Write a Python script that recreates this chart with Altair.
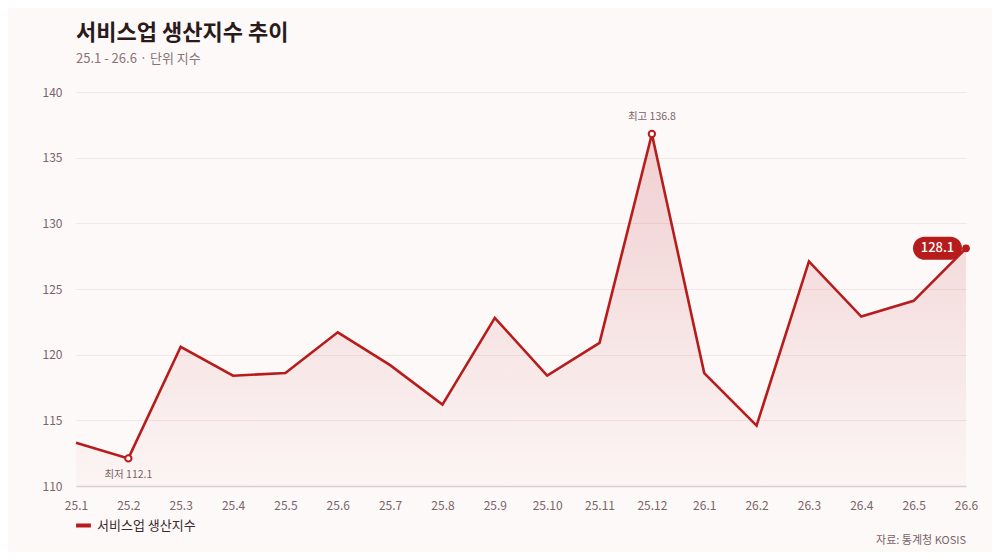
import pandas as pd
import altair as alt

# 데이터
months = ["25.1", "25.2", "25.3", "25.4", "25.5", "25.6", "25.7", "25.8", "25.9",
          "25.10", "25.11", "25.12", "26.1", "26.2", "26.3", "26.4", "26.5", "26.6"]
values = [113.3, 112.1, 120.6, 118.4, 118.6, 121.7, 119.2, 116.2, 122.8,
          118.4, 120.9, 136.8, 118.6, 114.6, 127.1, 122.9, 124.1, 128.1]
series_name = "서비스업 생산지수"
y_ticks = [110, 115, 120, 125, 130, 135, 140]

RED = "#b71c1c"
FONT = "Noto Sans CJK KR"
W, H = 890, 394

df = pd.DataFrame({"월": months, "지수": values, "계열": series_name})

x_scale = alt.Scale(type="point", domain=months, padding=0)
y_scale = alt.Scale(domain=[110, 140], zero=False, nice=False)


def xpos():
    return alt.X("월:N", sort=months, scale=x_scale, title=None)


x_enc = alt.X("월:N", sort=months, title=None, scale=x_scale,
              axis=alt.Axis(labelAngle=0, ticks=False, domainColor="#dccfd2",
                            domainWidth=1.5, labelPadding=14, grid=False))

base = alt.Chart(df).encode(x=x_enc)

gradient = alt.Gradient(
    gradient="linear", x1=1, x2=1, y1=0, y2=1,
    stops=[alt.GradientStop(color="rgba(190,40,50,0.20)", offset=0),
           alt.GradientStop(color="rgba(190,40,50,0.02)", offset=1)],
)

area = base.mark_area(color=gradient).encode(
    y=alt.Y("지수:Q", scale=y_scale, title=None,
            axis=alt.Axis(values=y_ticks, ticks=False, domain=False,
                          labelPadding=14, gridColor="#f3e6e7")),
    y2=alt.datum(110),
)

line = base.mark_line(strokeWidth=2.6, strokeJoin="miter").encode(
    y=alt.Y("지수:Q", scale=y_scale),
    color=alt.Color("계열:N", scale=alt.Scale(range=[RED]),
                    legend=alt.Legend(title=None, orient="none", legendX=-2, legendY=424,
                                      symbolType="stroke", symbolStrokeWidth=4,
                                      symbolSize=220, labelFontSize=13,
                                      labelColor="#3b2a2c", labelFont=FONT)),
)

# 최고 / 최저
i_max = values.index(max(values))
i_min = values.index(min(values))
ext = pd.DataFrame({
    "월": [months[i_max], months[i_min]],
    "지수": [values[i_max], values[i_min]],
    "라벨": [f"최고 {values[i_max]}", f"최저 {values[i_min]}"],
})
ext_pts = alt.Chart(ext).mark_point(shape="circle", filled=True, fill="white", stroke=RED,
                                    strokeWidth=2, size=40, opacity=1).encode(
    x=xpos(), y=alt.Y("지수:Q", scale=y_scale))
max_lbl = alt.Chart(ext.iloc[[0]]).mark_text(dy=-17, fontSize=10.5, color="#7a6468", font=FONT).encode(
    x=xpos(), y=alt.Y("지수:Q", scale=y_scale), text="라벨:N")
min_lbl = alt.Chart(ext.iloc[[1]]).mark_text(dy=17, fontSize=10.5, color="#7a6468", font=FONT).encode(
    x=xpos(), y=alt.Y("지수:Q", scale=y_scale), text="라벨:N")

# 마지막 값 배지
last = pd.DataFrame({"월": [months[-1]], "지수": [values[-1]], "라벨": [f"{values[-1]}"]})
last_base = alt.Chart(last).encode(x=xpos(), y=alt.Y("지수:Q", scale=y_scale))
last_pt = last_base.mark_circle(color=RED, size=60, opacity=1)
badge = last_base.mark_rect(color=RED, cornerRadius=11.5, xOffset=-53, x2Offset=-4,
                            yOffset=-11.5, y2Offset=11.5).encode(
    x2=alt.X2("월:N"), y2=alt.Y2("지수:Q"))
badge_txt = last_base.mark_text(color="white", fontSize=13, fontWeight=500, dx=-28.5,
                                font=FONT).encode(text="라벨:N")

source = alt.Chart(pd.DataFrame({"t": ["자료: 통계청 KOSIS"]})).mark_text(
    align="right", baseline="middle", fontSize=11, color="#7a6468", font=FONT
).encode(x=alt.value(W), y=alt.value(449), text="t:N")

chart = alt.layer(area, line, ext_pts, max_lbl, min_lbl, last_pt, badge, badge_txt, source).properties(
    width=W,
    height=H,
    autosize=alt.AutoSizeParams(type="none"),
    padding={"left": 68, "top": 84, "right": 26, "bottom": 66},
    background="#fdf9f8",
    title=alt.Title("서비스업 생산지수 추이", subtitle="25.1 - 26.6 · 단위 지수",
                    anchor="start", frame="group", offset=19, fontSize=22,
                    fontWeight="bold", color="#2a1a1c", subtitleFontSize=13,
                    subtitleColor="#8a7377", subtitlePadding=8, font=FONT,
                    subtitleFont=FONT),
).configure_view(
    stroke=None
).configure_axis(
    labelFont=FONT, labelFontSize=12, labelColor="#7a6468"
)

chart.save("out.html", embed_options={"renderer": "svg", "actions": False})
